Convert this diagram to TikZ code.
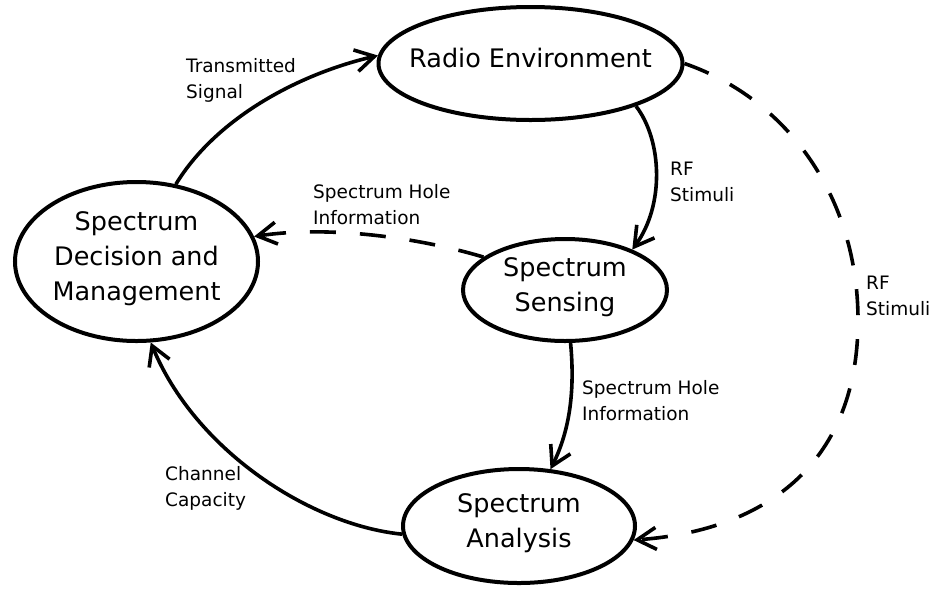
\documentclass[tikz,border=0pt]{standalone}
\usepackage{fontspec}
\setmainfont{DejaVu Sans}
\usetikzlibrary{shapes.geometric,arrows.meta}
\begin{document}
\begin{tikzpicture}[x=1pt,y=-1pt,
  ell/.style={draw,ellipse,line width=4pt,inner sep=0pt},
  big/.style={font=\fontsize{25.5}{35}\selectfont,align=center},
  lbl/.style={font=\fontsize{18.5}{26}\selectfont,align=left,anchor=north west,inner sep=0pt},
  conn/.style={line width=3.6pt,-{Straight Barb[length=19pt,width=22pt,line width=3.6pt]}},
  dsh/.style={conn,dash pattern=on 26pt off 24pt}]
\useasboundingbox (0,0) rectangle (936,590);
\node[ell,minimum width=304pt,minimum height=113pt] (radio) at (530.5,63.5) {};
\node[big] (radiot) at ([yshift=6pt]radio.center) {Radio Environment};
\node[ell,minimum width=243pt,minimum height=159pt] (dec) at (136.5,261.5) {};
\node[big] (dect) at ([yshift=3pt]dec.center) {Spectrum\\Decision and\\Management};
\node[ell,minimum width=204pt,minimum height=102pt] (sens) at (565,290) {};
\node[big] (senst) at ([yshift=2.5pt]sens.center) {Spectrum\\Sensing};
\node[ell,minimum width=232pt,minimum height=114pt] (ana) at (519,526) {};
\node[big] (anat) at ([yshift=3pt]ana.center) {Spectrum\\Analysis};
% connectors
\draw[conn] (dec.63) .. controls (215,120) and (295,75) .. (radio.177);
\draw[conn] (radio.-22) .. controls (662,140) and (665,205) .. (sens.31);
\draw[dsh] (sens.158) .. controls (420,238) and (330,225) .. (dec.12);
\draw[conn] (sens.-84) .. controls (575,390) and (570,430) .. (ana.61);
\draw[conn] (ana.184) .. controls (310,525) and (195,450) .. (dec.-80);
\coordinate (far) at (858,320);
\draw[dsh] (radio.0) .. controls (790,100) and (858,200) .. (far)
  .. controls (858,460) and (770,530) .. (ana.-7);
% labels
\node[lbl] (l1) at (186,58) {Transmitted\\Signal};
\node[lbl] (l2) at (670,162) {RF\\Stimuli};
\node[lbl] (l3) at (313,184) {Spectrum Hole\\Information};
\node[lbl] (l4) at (582,380) {Spectrum Hole\\Information};
\node[lbl] (l5) at (165,466) {Channel\\Capacity};
\node[lbl] (l6) at (866,276) {RF\\Stimuli};
\end{tikzpicture}
\end{document}
